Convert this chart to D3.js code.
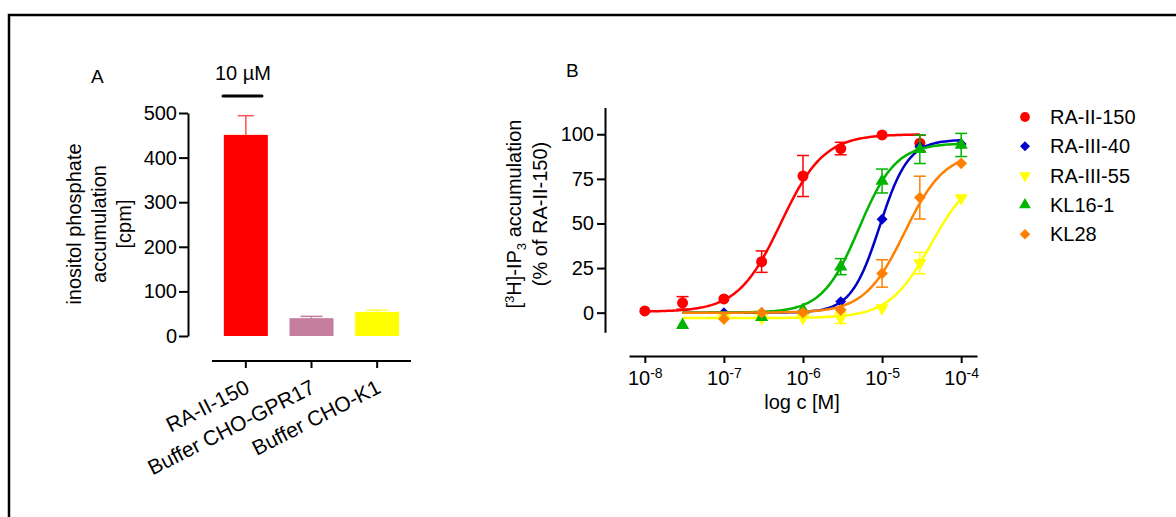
<!DOCTYPE html>
<html>
<head>
<meta charset="utf-8">
<script src="https://cdn.jsdelivr.net/npm/d3@7"></script>
<style>
  body { margin: 0; background: #fff; }
  svg { display: block; font-family: Arial, "Liberation Sans", sans-serif; }
  .axis path, .axis line { stroke: #000; stroke-width: 2; }
  .axis text { font-size: 20px; fill: #000; font-family: Arial, "Liberation Sans", sans-serif; }
</style>
</head>
<body>
<svg></svg>
<script>
// panel A: bars at 10 µM
const barLabels = ['RA-II-150', 'Buffer CHO-GPR17', 'Buffer CHO-K1'];
const barMeans = [451, 40, 54];
const barErrs = [43, 4, 4];
const barTicks = [0, 100, 200, 300, 400, 500];

// panel B: concentration-response
const concentrations = [1e-8, 3e-8, 1e-7, 3e-7, 1e-6, 3e-6, 1e-5, 3e-5, 1e-4];
const compounds = ['RA-II-150', 'RA-III-40', 'RA-III-55', 'KL16-1', 'KL28'];
const meanRA2_150 = [1, 5.5, 7.7, 28.6, 76.6, 92, 99.6, 95, null];
const errRA2_150 = [0.5, 3.5, 1, 6, 11.5, 3.5, 0.5, 4.5, null];
const meanRA3_40 = [null, null, 0, 0, 0, 6.2, 52.4, 93, 94.5];
const errRA3_40 = [null, null, 0.5, 0.5, 0.5, 1, 1, 1.5, 1];
const meanRA3_55 = [null, null, -3, -3, -3, -3, 2.6, 27.8, 64.3];
const errRA3_55 = [null, null, 0.5, 0.5, 0.5, 3, 1, 6, 1.5];
const meanKL16_1 = [null, -7, null, -2.5, 1.5, 25.8, 73.8, 91.6, 94];
const errKL16_1 = [null, 0.5, null, 0.5, 1, 4.5, 6.7, 8, 6.5];
const meanKL28 = [null, null, -3.5, 0, 0, 1.5, 22, 64.5, 83.7];
const errKL28 = [null, null, 0.5, 0.5, 0.5, 1, 7.7, 12, 1];
// fitted sigmoid parameters
const fitBottom = [0.5, 0, -3, 0, 0];
const fitTop = [100, 97, 80, 95, 90];
const fitLogEC50 = [-6.28, -5.03, -4.38, -5.29, -4.715];
const fitHill = [1.6, 2.4, 1.63, 1.87, 1.72];
const fitFrom = [1e-8, 3e-8, 3e-8, 3e-8, 3e-8];
const fitTo = [3e-5, 1e-4, 1e-4, 1e-4, 1e-4];
const xTicks = [1e-8, 1e-7, 1e-6, 1e-5, 1e-4];
const yTicks = [0, 25, 50, 75, 100];

const means = [meanRA2_150, meanRA3_40, meanRA3_55, meanKL16_1, meanKL28];
const errs = [errRA2_150, errRA3_40, errRA3_55, errKL16_1, errKL28];
const colors = ['#ff0000', '#0000c8', '#ffff00', '#00b400', '#ff8000'];
const barColors = ['#ff0000', '#c47d9c', '#ffff00'];
const barErrColors = ['#ff5050', '#c47d9c', '#ffff40'];

const [svgWidth, svgHeight] = [1176, 517];
const svg = d3.select('svg')
  .attr('width', svgWidth)
  .attr('height', svgHeight);

// frame
svg.append('path')
  .attr('d', `M9,${svgHeight + 5}V15H${svgWidth + 5}`)
  .attr('fill', 'none')
  .attr('stroke', '#000')
  .attr('stroke-width', 2.5);

// ---------- panel A ----------
const gA = svg.append('g');
const yA = d3.scaleLinear().domain([0, 500]).range([336, 113]);
const xA = d3.scaleBand().domain(barLabels).range([213, 410])
  .paddingInner(0.33).paddingOuter(0.165);

gA.append('text').attr('x', 91).attr('y', 83).attr('font-size', 19).text('A');
gA.append('text').attr('x', 243).attr('y', 80).attr('font-size', 20)
  .attr('text-anchor', 'middle').text('10 µM');
gA.append('line')
  .attr('x1', 223).attr('x2', 262).attr('y1', 96).attr('y2', 96)
  .attr('stroke', '#000').attr('stroke-width', 3).attr('stroke-linecap', 'round');

gA.append('g').attr('class', 'axis')
  .attr('transform', 'translate(188,0)')
  .call(d3.axisLeft(yA).tickValues(barTicks).tickSize(9).tickPadding(2).tickSizeOuter(0));

const xAxisA = gA.append('g').attr('class', 'axis')
  .attr('transform', 'translate(0,361)')
  .call(d3.axisBottom(xA).tickSize(7).tickSizeOuter(0));
xAxisA.select('.domain').attr('d', 'M212,0H411');
xAxisA.selectAll('.tick text')
  .attr('text-anchor', 'end')
  .style('font-size', '21px')
  .attr('dy', 0)
  .attr('y', 0)
  .attr('transform', 'translate(5,31) rotate(-27)');

const yLabA = gA.append('text')
  .attr('transform', 'translate(0,224) rotate(-90)')
  .attr('text-anchor', 'middle')
  .attr('font-size', 20);
['inositol phosphate', 'accumulation', '[cpm]'].forEach((s, i) => {
  yLabA.append('tspan').attr('x', 0).attr('y', 81 + i * 25).text(s);
});

gA.selectAll('rect.bar')
  .data(barMeans)
  .enter().append('rect')
  .attr('class', 'bar')
  .attr('x', (d, i) => xA(barLabels[i]))
  .attr('width', xA.bandwidth())
  .attr('y', d => yA(d))
  .attr('height', d => yA(0) - yA(d))
  .attr('fill', (d, i) => barColors[i]);

const errA = gA.selectAll('g.err')
  .data(barMeans)
  .enter().append('g')
  .attr('stroke', (d, i) => barErrColors[i])
  .attr('stroke-width', 1.5);
errA.append('line')
  .attr('x1', (d, i) => xA(barLabels[i]) + xA.bandwidth() / 2)
  .attr('x2', (d, i) => xA(barLabels[i]) + xA.bandwidth() / 2)
  .attr('y1', d => yA(d))
  .attr('y2', (d, i) => yA(d + barErrs[i]));
errA.append('line')
  .attr('x1', (d, i) => xA(barLabels[i]) + xA.bandwidth() / 2 - (i ? 11 : 8))
  .attr('x2', (d, i) => xA(barLabels[i]) + xA.bandwidth() / 2 + (i ? 11 : 8))
  .attr('y1', (d, i) => yA(d + barErrs[i]))
  .attr('y2', (d, i) => yA(d + barErrs[i]));

// ---------- panel B ----------
const gB = svg.append('g');
const xB = d3.scaleLog().domain([Math.pow(10, -8.2), Math.pow(10, -3.8)]).range([629, 977]);
const yB = d3.scaleLinear().domain([-11, 115]).range([332.3, 107.5]);

gB.append('text').attr('x', 566).attr('y', 77).attr('font-size', 19).text('B');

gB.append('g').attr('class', 'axis')
  .attr('transform', 'translate(605,0)')
  .call(d3.axisLeft(yB).tickValues(yTicks).tickSize(8).tickPadding(3).tickSizeOuter(0));

const xAxisB = gB.append('g').attr('class', 'axis')
  .attr('transform', 'translate(0,356)')
  .call(d3.axisBottom(xB).tickValues(xTicks).tickSize(7).tickSizeOuter(0));
xAxisB.selectAll('.tick text')
  .text('')
  .attr('y', 29)
  .attr('dy', 0)
  .each(function(d) {
    const t = d3.select(this);
    t.append('tspan').text('10');
    t.append('tspan').attr('dy', -7).style('font-size', '14px').text(Math.round(Math.log10(d)));
  });

gB.append('text')
  .attr('x', 802).attr('y', 409)
  .attr('text-anchor', 'middle').attr('font-size', 20)
  .text('log c [M]');

const yLabB = gB.append('text')
  .attr('transform', 'translate(0,214) rotate(-90)')
  .attr('text-anchor', 'middle')
  .attr('font-size', 20);
const l1 = yLabB.append('tspan').attr('x', 0).attr('y', 521);
l1.append('tspan').text('[');
l1.append('tspan').attr('dy', -7).attr('font-size', 13).text('3');
l1.append('tspan').attr('dy', 7).text('H]-IP');
l1.append('tspan').attr('dy', 5).attr('font-size', 13).text('3');
l1.append('tspan').attr('dy', -5).text(' accumulation');
yLabB.append('tspan').attr('x', 0).attr('y', 547).text('(% of RA-II-150)');

const symbols = [
  d3.symbol().type(d3.symbolCircle).size(95),
  d3.symbol().type(d3.symbolSquare).size(60),
  d3.symbol().type(d3.symbolTriangle).size(75),
  d3.symbol().type(d3.symbolTriangle).size(75),
  d3.symbol().type(d3.symbolSquare).size(70)
];
const rotations = [0, 45, 180, 0, 45];

const line = d3.line().x(d => xB(d[0])).y(d => yB(d[1]));

compounds.forEach((name, k) => {
  const g = gB.append('g');
  const lo = Math.log10(fitFrom[k]), hi = Math.log10(fitTo[k]);
  const curve = d3.range(0, 121).map(j => {
    const lx = lo + (hi - lo) * j / 120;
    const y = fitBottom[k] + (fitTop[k] - fitBottom[k]) /
      (1 + Math.pow(10, (fitLogEC50[k] - lx) * fitHill[k]));
    return [Math.pow(10, lx), y];
  });
  g.append('path')
    .datum(curve)
    .attr('d', line)
    .attr('fill', 'none')
    .attr('stroke', colors[k])
    .attr('stroke-width', 2.5);

  const pts = concentrations.map((c, i) => ({c, m: means[k][i], e: errs[k][i]}))
    .filter(p => p.m !== null);

  const eb = g.selectAll('g.eb').data(pts.filter(p => p.e > 1.5))
    .enter().append('g')
    .attr('stroke', colors[k])
    .attr('stroke-width', 1.5);
  eb.append('line')
    .attr('x1', p => xB(p.c)).attr('x2', p => xB(p.c))
    .attr('y1', p => yB(p.m - p.e)).attr('y2', p => yB(p.m + p.e));
  [1, -1].forEach(s => {
    eb.append('line')
      .attr('x1', p => xB(p.c) - 6).attr('x2', p => xB(p.c) + 6)
      .attr('y1', p => yB(p.m + s * p.e)).attr('y2', p => yB(p.m + s * p.e));
  });

  g.selectAll('path.pt').data(pts)
    .enter().append('path')
    .attr('class', 'pt')
    .attr('d', symbols[k])
    .attr('transform', p => `translate(${xB(p.c)},${yB(p.m)}) rotate(${rotations[k]})`)
    .attr('fill', colors[k]);
});

// legend
const legend = svg.append('g').attr('transform', 'translate(1025,117)');
const legendSymbols = [
  d3.symbol().type(d3.symbolCircle).size(75),
  d3.symbol().type(d3.symbolSquare).size(50),
  d3.symbol().type(d3.symbolTriangle).size(60),
  d3.symbol().type(d3.symbolTriangle).size(60),
  d3.symbol().type(d3.symbolSquare).size(55)
];
const item = legend.selectAll('g')
  .data(compounds)
  .enter().append('g')
  .attr('transform', (d, i) => `translate(0,${i * 29.3})`);
item.append('path')
  .attr('d', (d, i) => legendSymbols[i]())
  .attr('transform', (d, i) => `rotate(${rotations[i]})`)
  .attr('fill', (d, i) => colors[i]);
item.append('text')
  .attr('x', 25).attr('y', 7)
  .attr('font-size', 20)
  .text(d => d);
</script>
</body>
</html>
